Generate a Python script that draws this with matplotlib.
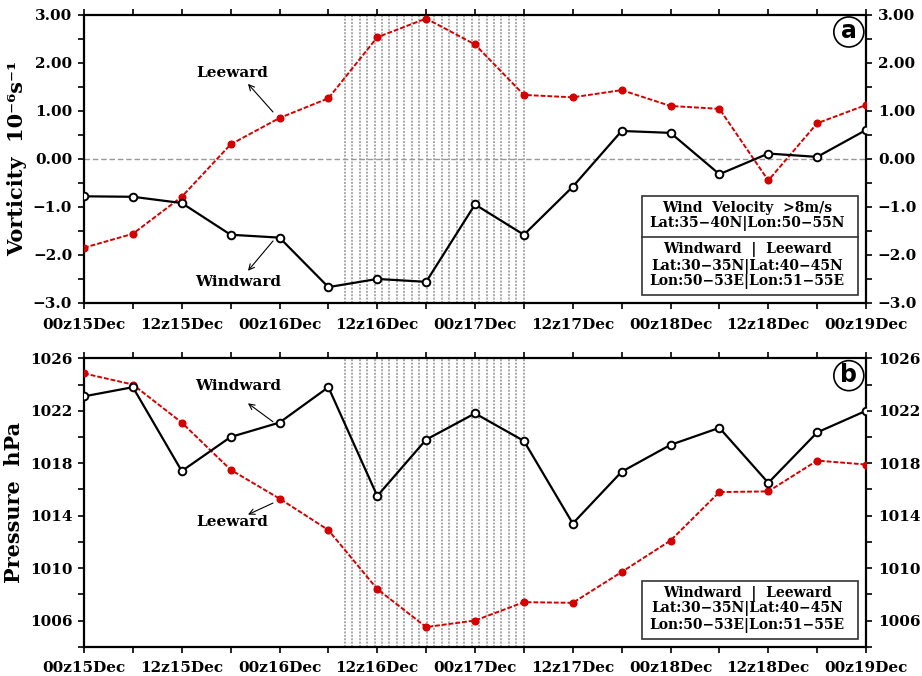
import numpy as np
import matplotlib.pyplot as plt
from matplotlib.patches import Ellipse, Rectangle

plt.rcParams['font.family'] = ['DejaVu Serif']
plt.rcParams['font.weight'] = 'bold'

# 6-hourly times, 00z15Dec .. 00z19Dec
hours = np.arange(0, 97, 6)
tick_labels = ['00z15Dec', '12z15Dec', '00z16Dec', '12z16Dec', '00z17Dec',
               '12z17Dec', '00z18Dec', '12z18Dec', '00z19Dec']

vort_windward = [-0.78, -0.79, -0.92, -1.58, -1.64, -2.67, -2.50, -2.56, -0.95,
                 -1.58, -0.58, 0.58, 0.54, -0.32, 0.11, 0.04, 0.60]
vort_leeward = [-1.85, -1.56, -0.79, 0.30, 0.85, 1.26, 2.53, 2.92, 2.38,
                1.33, 1.28, 1.43, 1.10, 1.04, -0.45, 0.74, 1.12]

pres_windward = [1023.1, 1023.8, 1017.4, 1020.0, 1021.1, 1023.8, 1015.5, 1019.8, 1021.8,
                 1019.7, 1013.4, 1017.35, 1019.4, 1020.7, 1016.5, 1020.35, 1022.0]
pres_leeward = [1024.85, 1024.0, 1021.1, 1017.5, 1015.3, 1012.9, 1008.4, 1005.5, 1006.0,
                1007.4, 1007.35, 1009.7, 1012.1, 1015.8, 1015.85, 1018.2, 1017.9]

# stippled period (hours from 00z15Dec)
shade_start, shade_end = 32, 54

RED = '#d40000'

fig = plt.figure(figsize=(9.22, 6.76), dpi=100)
ax_a = fig.add_axes([0.0911, 0.5518, 0.8482, 0.4265])
ax_b = fig.add_axes([0.0911, 0.0433, 0.8482, 0.4266])


def style_axes(ax):
    ax.set_xlim(0, 96)
    ax.set_xticks(hours)
    ax.set_xticklabels([tick_labels[i // 2] if i % 2 == 0 else '' for i in range(len(hours))])
    ax.tick_params(which='both', direction='out', length=4.5, width=1.2,
                   top=True, right=True, labelright=True, labelsize=11)
    ax.tick_params(axis='x', pad=6)
    ax.tick_params(axis='y', pad=4)
    for s in ax.spines.values():
        s.set_linewidth(1.6)
    for lab in ax.get_xticklabels() + ax.get_yticklabels():
        lab.set_fontweight('bold')


def stipple(ax, y0, y1):
    xs = np.linspace(shade_start, shade_end, 25)
    ax.vlines(xs, y0, y1, colors='#a8a8a8', linewidth=1.4,
              linestyles=(0, (1.0, 0.75)), zorder=1)


def panel_letter(ax, letter):
    ax.add_patch(Ellipse((0.978, 0.94), 30 / 782, 30 / 288, transform=ax.transAxes,
                         facecolor='white', edgecolor='black', lw=1.2, zorder=6))
    ax.text(0.978, 0.943, letter, transform=ax.transAxes, ha='center', va='center',
            fontsize=17, fontweight='bold', family='DejaVu Sans', zorder=7)


def region_box(ax, y_top, lines, y_lines, divider=None):
    ax.add_patch(Rectangle((0.713, 0.028), 0.277, y_top - 0.028, transform=ax.transAxes,
                           facecolor='white', edgecolor='#333333', lw=1.2, zorder=5))
    if divider is not None:
        ax.plot([0.713, 0.990], [divider, divider], transform=ax.transAxes,
                color='#333333', lw=1.2, zorder=6)
    for txt, yy in zip(lines, y_lines):
        ax.text(0.848, yy, txt, transform=ax.transAxes, ha='center', va='center',
                fontsize=10, fontweight='bold', zorder=7)


arrow_kw = dict(arrowstyle='->', color='black', lw=0.8, shrinkA=0, shrinkB=0)
win_kw = dict(color='black', lw=1.6, marker='o', ms=5.5, mfc='white',
              mec='black', mew=1.4, zorder=4)
lee_kw = dict(color=RED, lw=1.4, ls=(0, (2.5, 1)), marker='o', ms=4.8,
              mfc=RED, mec=RED, zorder=3)

# ---- panel a: vorticity ----
ax = ax_a
stipple(ax, -3.0, 3.0)
ax.axhline(0, color='#999999', lw=1.0, ls=(0, (4, 2)), zorder=2)
ax.plot(hours, vort_leeward, **lee_kw)
ax.plot(hours, vort_windward, **win_kw)
ax.set_ylim(-3, 3)
ax.set_yticks([-3, -2, -1, 0, 1, 2, 3])
ax.set_yticks(np.arange(-2.5, 3, 1), minor=True)
style_axes(ax)
ax.set_yticklabels(['\u22123.0', '\u22122.0', '\u22121.0', '0.00', '1.00', '2.00', '3.00'],
                   fontweight='bold')
ax.set_ylabel('Vorticity  10\u207b\u2076s\u207b\u00b9', fontsize=15, fontweight='bold', labelpad=4)
ax.annotate('', xy=(20.13, 1.56), xytext=(23.2, 0.975), arrowprops=arrow_kw)
ax.text(18.17, 1.79, 'Leeward', ha='center', va='center', fontsize=11, fontweight='bold')
ax.annotate('', xy=(20.13, -2.33), xytext=(23.2, -1.71), arrowprops=arrow_kw)
ax.text(18.9, -2.56, 'Windward', ha='center', va='center', fontsize=11, fontweight='bold')
panel_letter(ax, 'a')
region_box(ax, 0.371,
           ['Wind  Velocity  >8m/s', 'Lat:35\u221240N|Lon:50\u221255N',
            'Windward  |  Leeward', 'Lat:30\u221235N|Lat:40\u221245N', 'Lon:50\u221253E|Lon:51\u221255E'],
           [0.329, 0.274, 0.187, 0.128, 0.073], divider=0.229)

# ---- panel b: pressure ----
ax = ax_b
stipple(ax, 1004, 1026)
ax.plot(hours, pres_leeward, **lee_kw)
ax.plot(hours, pres_windward, **win_kw)
ax.set_ylim(1004, 1026)
ax.set_yticks(np.arange(1006, 1027, 4))
ax.set_yticks(np.arange(1004, 1027, 4), minor=True)
style_axes(ax)
ax.set_ylabel('Pressure  hPa', fontsize=15, fontweight='bold', labelpad=4)
ax.annotate('', xy=(20.13, 1022.57), xytext=(23.2, 1021.16), arrowprops=arrow_kw)
ax.text(18.9, 1023.9, 'Windward', ha='center', va='center', fontsize=11, fontweight='bold')
ax.annotate('', xy=(20.13, 1014.08), xytext=(23.2, 1014.96), arrowprops=arrow_kw)
ax.text(18.17, 1013.5, 'Leeward', ha='center', va='center', fontsize=11, fontweight='bold')
panel_letter(ax, 'b')
region_box(ax, 0.228,
           ['Windward  |  Leeward', 'Lat:30\u221235N|Lat:40\u221245N', 'Lon:50\u221253E|Lon:51\u221255E'],
           [0.186, 0.131, 0.072])

fig.savefig('out.png', dpi=100, facecolor='white')
